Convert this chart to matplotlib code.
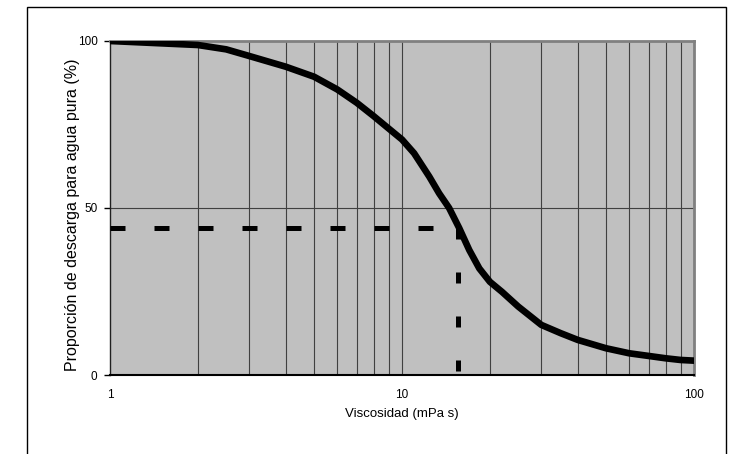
import numpy as np
import matplotlib
matplotlib.use("Agg")
import matplotlib.pyplot as plt
from matplotlib.patches import Rectangle
from matplotlib.ticker import FixedLocator, NullFormatter

plt.rcParams["font.family"] = ["Liberation Sans", "DejaVu Sans"]

# ---- datos ----
viscosidad = [1, 1.5, 2, 2.5, 3, 4, 5, 6, 7, 8, 9, 10, 11, 12.4, 13.4, 14.5,
              15.7, 17, 18.4, 20, 22, 25, 30, 35, 40, 50, 60, 70, 80, 90, 100]
proporcion = [100, 99.3, 98.8, 97.5, 95.5, 92.3, 89.3, 85.5, 81.5, 77.5, 73.8,
              70.5, 66.4, 59.4, 54.4, 50, 44, 37.4, 31.9, 27.9, 24.9, 20.5, 15,
              12.5, 10.5, 8, 6.5, 5.7, 5, 4.5, 4.3]
visc_ref = 15.6
prop_ref = 44
x_ticks = [1, 10, 100]
x_labels = ["1", "10", "100"]
y_ticks = [0, 50, 100]
y_labels = ["0", "50", "100"]

fig = plt.figure(figsize=(7.31, 4.54), dpi=100)
fig.patches.append(Rectangle((27 / 731, -0.2), 699 / 731, 1.2 - 7 / 454,
                             transform=fig.transFigure, fill=False,
                             edgecolor="black", linewidth=1.0))

ax = fig.add_axes([110 / 731, 79 / 454, 584 / 731, 334 / 454])
ax.set_facecolor("#c0c0c0")
ax.set_xscale("log")
ax.set_xlim(1, 100)
ax.set_ylim(0, 100)

# rejilla vertical en cada subdivisión y horizontal en 50
minor = [m * d for d in (1, 10) for m in range(2, 10)]
for v in minor + [10]:
    ax.axvline(v, color="#404040", linewidth=0.8, zorder=1)
ax.axhline(50, color="#404040", linewidth=0.8, zorder=1)

ax.plot(viscosidad, proporcion, color="black", linewidth=4.8,
        solid_capstyle="round", solid_joinstyle="round", zorder=3)
ax.plot([1, visc_ref], [prop_ref, prop_ref], color="black", linewidth=3.6,
        dashes=(3.0, 5.8), dash_capstyle="butt", zorder=4)
ax.plot([visc_ref, visc_ref], [prop_ref, 0], color="black", linewidth=3.6,
        dashes=(2.2, 6.6), dash_capstyle="butt", zorder=4, clip_on=False)

ax.xaxis.set_major_locator(FixedLocator(x_ticks))
ax.xaxis.set_minor_locator(FixedLocator([]))
ax.xaxis.set_minor_formatter(NullFormatter())
ax.set_xticks(x_ticks)
ax.set_xticklabels(x_labels)
ax.set_yticks(y_ticks)
ax.set_yticklabels(y_labels)
ax.tick_params(axis="x", length=0, pad=10, labelsize=8.5)
ax.tick_params(axis="y", length=4, width=1, pad=5, labelsize=8.5)

for side in ("top", "right"):
    ax.spines[side].set_color("#808080")
    ax.spines[side].set_linewidth(2)
ax.spines["left"].set_color("#202020")
ax.spines["bottom"].set_color("black")
ax.spines["left"].set_linewidth(1)
ax.spines["bottom"].set_linewidth(1.5)

ax.set_xlabel("Viscosidad (mPa s)", fontsize=9.5, labelpad=5)
ax.set_ylabel("Proporción de descarga para agua pura (%)", fontsize=11.5)
ax.yaxis.set_label_coords(-30 / 584, 0.48)

fig.savefig("out.png", dpi=100)
